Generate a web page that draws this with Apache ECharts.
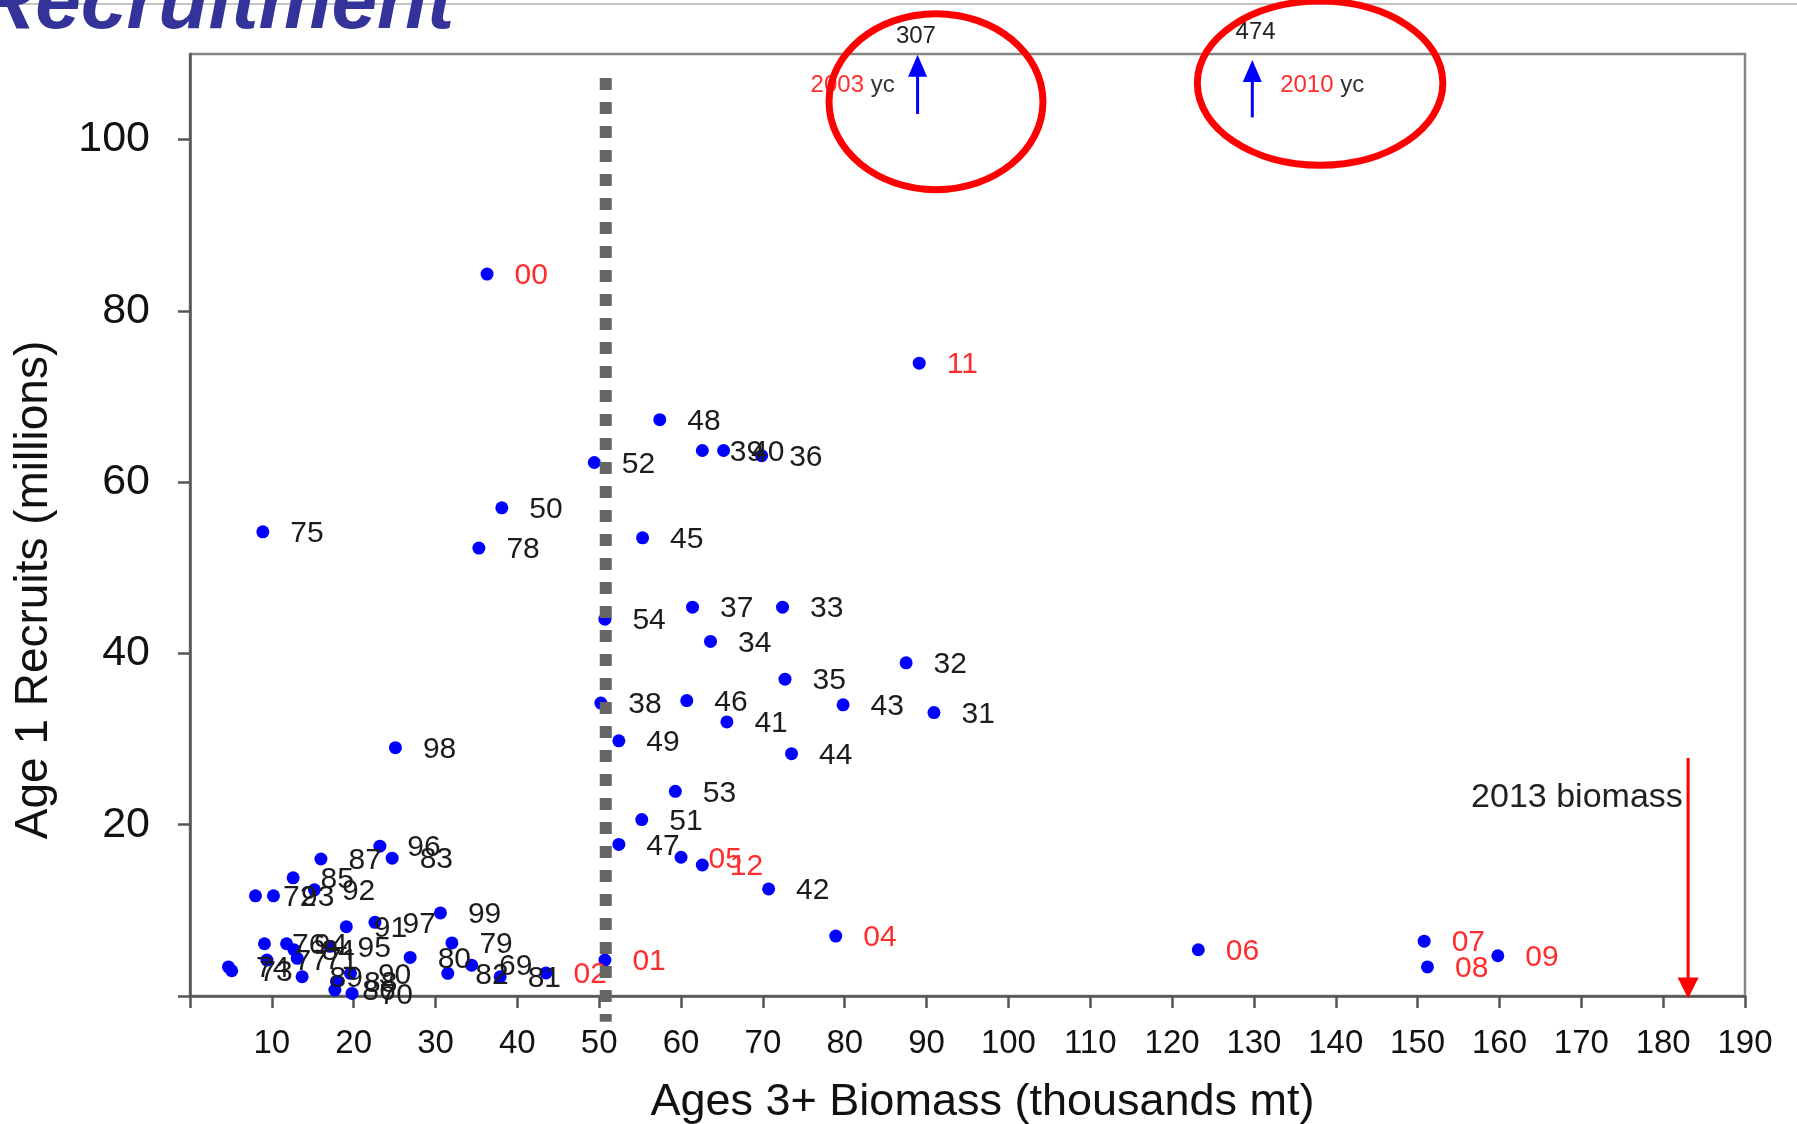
<!DOCTYPE html>
<html>
<head>
<meta charset="utf-8">
<script src="https://cdn.jsdelivr.net/npm/echarts@6/dist/echarts.min.js"></script>
<style>
html,body{margin:0;padding:0;background:#ffffff;}
#chart{width:1797px;height:1124px;}
</style>
</head>
<body>
<div id="chart"></div>
<script>
// ---- Data ----
// year class label, ages 3+ biomass (thousands mt), age 1 recruits (millions)
const yearClass = ['31','32','33','34','35','36','37','38','39','40','41','42','43','44','45','46','47','48','49','50','51','52','53','54',
  '69','70','71','72','73','74','75','76','77','78','79','80','81','82','83','84','85','86','87','88','89','90','91','92','93','94','95','96','97','98','99',
  '00','01','02','04','05','06','07','08','09','11','12'];
const biomass = [90.9,87.5,72.4,63.6,72.7,69.85,61.4,50.2,62.6,65.2,65.6,70.7,79.8,73.5,55.3,60.7,52.4,57.4,52.4,38.1,55.2,49.4,59.3,50.7,
  34.4,19.8,13.1,8.0,5.1,4.7,8.9,9.1,9.4,35.3,32.0,26.9,37.9,31.5,24.7,12.7,12.6,17.7,16.0,17.9,13.7,19.6,19.1,15.2,10.2,11.8,17.1,23.2,22.6,25.1,30.6,
  36.3,50.7,43.5,78.9,60.0,123.2,150.8,151.2,159.8,89.1,62.6];
const recruits = [33.1,38.9,45.4,41.4,37.0,63.1,45.4,34.2,63.7,63.7,32.0,12.5,34.0,28.3,53.5,34.5,17.7,67.3,29.8,57.0,20.6,62.3,23.9,44.0,
  3.6,0.3,4.4,11.7,2.95,3.4,54.2,6.1,4.2,52.3,6.2,4.5,2.25,2.65,16.1,5.4,13.8,0.7,16.0,1.7,2.25,2.65,8.1,12.4,11.7,6.1,5.8,17.5,8.6,29.0,9.7,
  84.3,4.2,2.7,7.0,16.2,5.4,6.4,3.4,4.7,73.9,15.3];

// off-scale year classes (arrows at top)
const offScaleYears = ['2003','2010'];
const offScaleRecruits = [307, 474];
const offScaleBiomass = [88.9, 129.8];

// axis ticks
const xTicks = [0,10,20,30,40,50,60,70,80,90,100,110,120,130,140,150,160,170,180,190];
const yTicks = [0,20,40,60,80,100];

// reference (dotted) line
const refLineX = [50.8, 50.8];
const refLineY = [107.2, -3.0];

// 2013 biomass marker
const biomass2013 = 183.05;

// ---- styles ----
const FONT = '"Liberation Sans", Arial, Helvetica, sans-serif';
const RED = '#ff2e2e';
const DARK = '#1c1c1c';

const chart = echarts.init(document.getElementById('chart'), null, {renderer: 'canvas'});

const scatterData = yearClass.map((yc, i) => ({
  name: yc,
  value: [biomass[i], recruits[i]],
  label: { color: (yc[0] === '0' || yc[0] === '1') ? RED : DARK }
}));

// arrows: [x, fromY, toY]
const arrowData = [
  [offScaleBiomass[0], 103.0, 109.9],
  [offScaleBiomass[1], 102.6, 109.3],
  [biomass2013, 27.8, -0.28]
];
const arrowStyle = [
  {color: '#0000ff', width: 3, headW: 19, headL: 22},
  {color: '#0000ff', width: 3, headW: 19, headL: 22},
  {color: '#ff0000', width: 3, headW: 21, headL: 21}
];

// ellipses around off-scale year classes: [cx, cy, rx, ry] in data units
const ellipseData = [
  [91.15, 104.43, 13.07, 10.27],
  [138.08, 106.6, 15.0, 9.59]
];

// text annotations: [x, y, kind]
const annoData = [
  [88.7, 112.0, 0],
  [130.2, 112.5, 1],
  [86.1, 106.3, 2],
  [133.2, 106.3, 3],
  [182.4, 23.2, 4]
];
function annoText(k) {
  if (k === 0) return {text: String(offScaleRecruits[0]), align: 'center'};
  if (k === 1) return {text: String(offScaleRecruits[1]), align: 'center'};
  if (k === 2) return {text: '{r|' + offScaleYears[0] + '} {k|yc}', align: 'right'};
  if (k === 3) return {text: '{r|' + offScaleYears[1] + '} {k|yc}', align: 'left'};
  return {text: '2013 biomass', align: 'right'};
}

const option = {
  animation: false,
  backgroundColor: '#ffffff',
  grid: {
    left: 190, right: 52, top: 54, bottom: 128,
    containLabel: false, outerBoundsMode: 'none',
    show: true, borderColor: '#858585', borderWidth: 2.5, backgroundColor: 'transparent'
  },
  xAxis: {
    type: 'value', min: 0, max: 190, interval: 10,
    axisLine: {show: true, onZero: false, lineStyle: {color: '#555', width: 2.5}},
    axisTick: {show: true, length: 12, lineStyle: {color: '#555', width: 2.5}, customValues: xTicks},
    axisLabel: {
      fontSize: 33, color: '#111', fontFamily: FONT, margin: 31,
      customValues: xTicks.filter(v => v !== 0),
      formatter: v => (v === 0 ? '' : String(v))
    },
    splitLine: {show: false},
    name: 'Ages 3+ Biomass (thousands mt)',
    nameLocation: 'middle', nameGap: 84,
    nameTextStyle: {fontSize: 45, color: '#111', fontFamily: FONT, padding: [0, 0, 0, 30]}
  },
  yAxis: {
    type: 'value', min: 0, max: 110, interval: 20,
    axisLine: {show: true, onZero: false, lineStyle: {color: '#555', width: 2.5}},
    axisTick: {show: true, length: 12, lineStyle: {color: '#555', width: 2.5}, customValues: yTicks},
    axisLabel: {
      fontSize: 43, color: '#111', fontFamily: FONT, margin: 40, padding: [6, 0, 0, 0],
      customValues: yTicks.filter(v => v !== 0),
      formatter: v => ((v === 0 || v > 100) ? '' : String(v))
    },
    splitLine: {show: false},
    name: 'Age 1 Recruits (millions)',
    nameLocation: 'middle', nameGap: 133,
    nameTextStyle: {fontSize: 46, color: '#111', fontFamily: FONT, padding: [0, 130, 0, 0]}
  },
  graphic: [
    {type: 'line', shape: {x1: 0, y1: 4, x2: 1797, y2: 4}, style: {stroke: '#c4c4c4', lineWidth: 2}, z: 1},
    {type: 'text', x: -24, y: 5, z: 2,
      style: {text: 'Recruitment', font: 'italic bold 82px ' + FONT, fill: '#333399', verticalAlign: 'middle', align: 'left'}}
  ],
  series: [
    {
      type: 'scatter',
      name: 'Year classes',
      data: scatterData,
      symbol: 'circle',
      symbolSize: 13,
      itemStyle: {color: '#0000ff', opacity: 1},
      label: {
        show: true, position: 'right', distance: 21, offset: [0, 2],
        formatter: '{b}', fontSize: 30, fontFamily: FONT
      },
      z: 2
    },
    {
      type: 'line',
      name: 'Reference',
      data: refLineX.map((x, i) => [x, refLineY[i]]),
      symbol: 'none',
      clip: false,
      silent: true,
      lineStyle: {color: '#666666', width: 12, type: [12, 12], cap: 'butt'},
      z: 3
    },
    {
      type: 'custom',
      name: 'Arrows',
      clip: false,
      silent: true,
      data: arrowData,
      encode: {x: 0, y: [1, 2]},
      renderItem: function (params, api) {
        const x = api.value(0);
        const p1 = api.coord([x, api.value(1)]);
        const p2 = api.coord([x, api.value(2)]);
        const st = arrowStyle[params.dataIndex];
        const dir = p2[1] < p1[1] ? -1 : 1;
        const baseY = p2[1] - dir * st.headL;
        return {
          type: 'group',
          children: [
            {type: 'line', shape: {x1: p1[0], y1: p1[1], x2: p2[0], y2: baseY + dir * 1},
              style: {stroke: st.color, lineWidth: st.width}},
            {type: 'polygon', shape: {points: [[p2[0], p2[1]], [p2[0] - st.headW / 2, baseY], [p2[0] + st.headW / 2, baseY]]},
              style: {fill: st.color}}
          ]
        };
      },
      z: 4
    },
    {
      type: 'custom',
      name: 'Annotations',
      clip: false,
      silent: true,
      data: annoData,
      encode: {x: 0, y: 1},
      renderItem: function (params, api) {
        const p = api.coord([api.value(0), api.value(1)]);
        const k = api.value(2);
        const t = annoText(k);
        let font = '24px ' + FONT;
        if (k === 4) font = '34px ' + FONT;
        return {
          type: 'text', x: p[0], y: p[1],
          style: {
            text: t.text, align: t.align, verticalAlign: 'middle', font: font, fill: '#222',
            rich: {r: {fill: RED, fontSize: 24, fontFamily: FONT}, k: {fill: '#333', fontSize: 24, fontFamily: FONT}}
          }
        };
      },
      z: 5
    },
    {
      type: 'custom',
      name: 'Circles',
      clip: false,
      silent: true,
      data: ellipseData,
      encode: {x: 0, y: 1},
      renderItem: function (params, api) {
        const c = api.coord([api.value(0), api.value(1)]);
        const s = api.size([api.value(2), api.value(3)]);
        return {
          type: 'ellipse',
          shape: {cx: c[0], cy: c[1], rx: s[0], ry: s[1]},
          style: {fill: 'none', stroke: '#ff0000', lineWidth: 7}
        };
      },
      z: 6
    }
  ]
};
chart.setOption(option);
</script>
</body>
</html>
